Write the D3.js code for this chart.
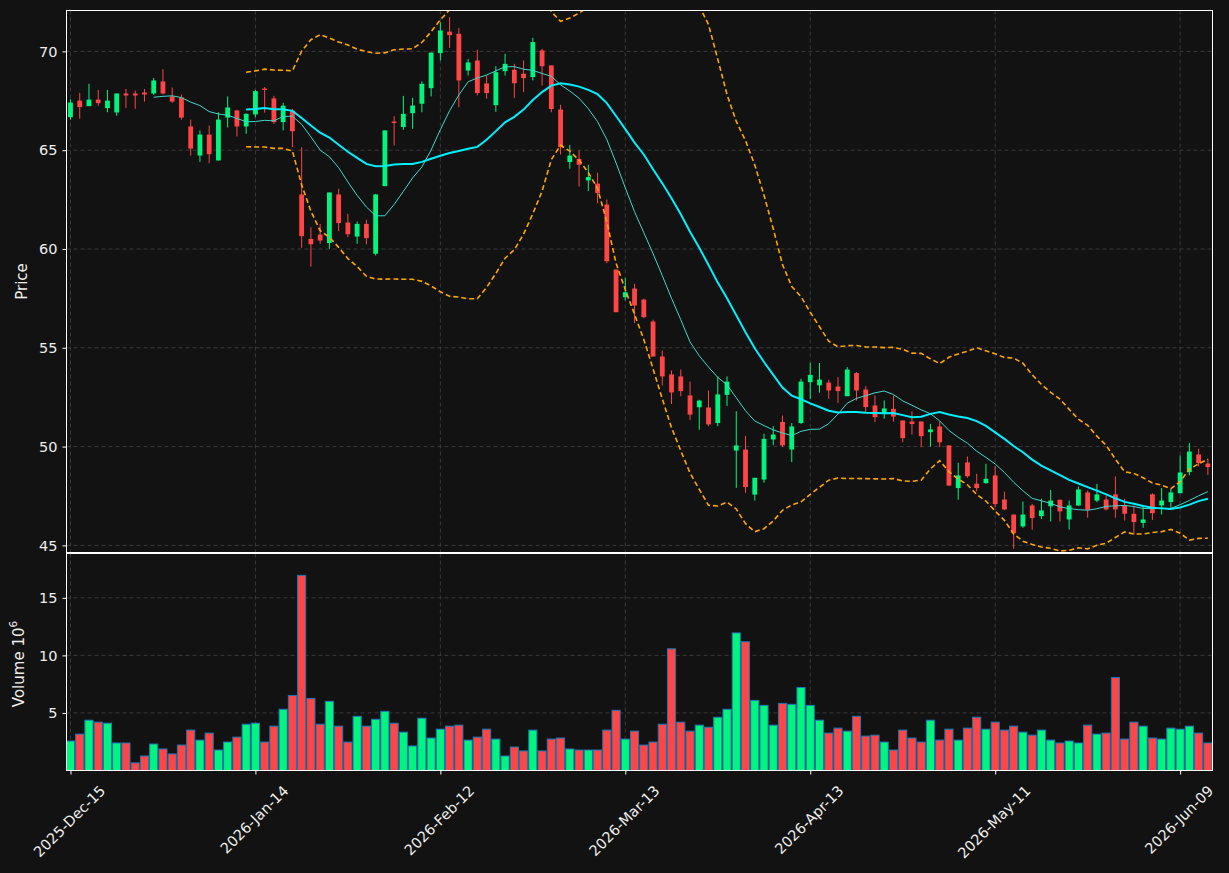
<!DOCTYPE html>
<html>
<head>
<meta charset="utf-8">
<script src="https://cdn.jsdelivr.net/npm/d3@7"></script>
<style>
  html, body { margin: 0; padding: 0; background: #121212; }
  svg { display: block; }
  text { font-family: "DejaVu Sans", sans-serif; }
</style>
</head>
<body>
<svg id="chart" width="1229" height="873"></svg>
<script>
// ---------------- DATA ----------------
const opens = [66.67,67.51,67.23,67.56,67.13,66.91,67.87,67.87,67.92,67.87,68.48,67.72,67.67,66.20,64.73,65.79,64.48,66.65,67.01,66.20,
66.81,68.12,67.62,66.42,67.01,62.76,60.51,60.73,60.30,62.76,61.34,60.63,61.27,59.76,63.18,66.45,66.17,66.87,67.35,68.14,
69.91,71.00,70.89,69.03,69.54,68.38,67.28,69.00,69.07,68.87,68.70,70.05,69.29,67.06,64.40,64.56,63.47,63.31,62.25,58.96,
57.56,58.00,57.44,56.33,54.56,53.65,53.55,52.59,51.99,51.98,51.19,52.62,49.80,49.85,47.57,48.33,50.36,51.25,49.85,51.19,
53.26,53.10,53.24,53.04,52.55,53.72,52.89,52.08,51.69,51.91,51.32,51.27,51.27,50.73,51.02,50.06,47.90,49.20,48.12,48.15,
48.54,47.32,46.56,45.96,47.02,46.48,46.98,47.31,46.31,47.02,47.68,47.27,47.32,47.58,47.02,46.60,46.14,47.58,47.02,47.19,
47.64,48.71,49.60,49.14];
const highs = [67.58,67.90,68.36,68.05,68.05,67.87,68.10,68.02,68.10,68.66,69.10,68.17,67.82,66.55,66.00,66.25,66.92,67.72,67.05,66.86,
68.05,68.20,67.75,67.40,67.09,65.15,61.10,61.27,62.86,63.05,61.78,61.39,61.48,62.79,66.00,66.72,67.75,67.65,68.48,69.94,
71.48,71.73,71.19,69.62,70.08,68.78,69.25,69.88,69.37,69.54,70.69,70.13,69.29,67.30,65.27,64.99,64.26,63.86,62.50,58.96,
58.54,58.24,57.48,56.42,54.86,53.85,53.90,53.29,52.37,52.84,53.55,53.55,51.79,50.54,48.42,50.65,51.03,51.57,51.19,53.43,
54.24,54.23,53.38,53.51,54.02,53.77,53.06,52.59,52.33,52.59,51.32,51.78,51.27,51.15,51.27,50.06,49.18,49.50,48.62,49.13,
49.00,47.72,46.56,47.22,47.10,47.36,47.81,47.31,47.27,47.98,47.78,48.11,47.52,48.49,47.36,47.02,47.02,47.64,47.90,47.86,
49.55,50.19,49.89,49.38];
const lows = [66.54,66.59,67.23,67.25,66.92,66.74,67.14,67.09,67.46,67.80,67.82,67.40,66.54,64.73,64.41,64.34,64.48,66.15,65.69,65.83,
66.67,66.90,66.33,66.00,65.15,60.06,59.11,60.26,60.01,60.90,60.60,60.26,60.23,59.67,63.18,65.24,66.03,66.08,66.92,67.72,
69.54,70.18,67.18,68.78,67.77,67.60,66.94,68.78,67.65,67.94,68.53,68.27,66.92,64.78,64.06,63.16,62.93,62.32,59.28,56.80,
57.40,56.25,56.50,54.56,53.09,52.16,52.55,51.35,50.85,51.03,51.03,52.05,47.91,47.66,47.27,48.17,50.07,49.97,49.21,51.15,
52.42,52.73,52.42,52.21,52.55,52.33,51.74,51.24,51.41,51.27,50.22,50.61,49.97,50.00,49.97,48.00,47.31,48.42,47.73,48.12,
46.94,46.77,44.83,45.89,45.79,46.34,46.21,46.21,45.80,47.00,46.40,47.19,46.77,46.40,46.26,45.55,45.89,46.29,46.56,46.82,
47.64,48.54,49.01,48.57];
const closes = [67.41,67.18,67.56,67.38,67.51,67.87,67.77,67.77,67.82,68.53,67.87,67.46,66.65,65.08,65.79,64.80,66.55,67.16,66.20,66.84,
67.99,68.05,66.42,67.25,65.96,60.65,60.24,60.43,62.86,61.31,60.75,61.27,60.55,62.76,66.00,66.38,66.84,67.26,68.36,69.94,
71.06,70.82,68.53,69.44,67.89,67.89,68.95,69.37,68.39,68.65,70.47,69.25,67.08,65.15,64.73,64.26,63.64,62.83,59.38,56.80,
57.81,57.14,56.55,54.56,53.55,52.74,52.81,51.62,52.33,51.12,52.64,53.29,50.06,47.95,48.42,50.39,50.61,50.06,51.02,53.29,
53.63,53.39,52.84,52.81,53.90,52.84,52.00,51.49,51.93,51.52,50.43,51.14,50.53,50.87,50.22,48.03,48.54,48.50,47.90,48.37,
47.09,46.82,45.62,46.56,46.38,46.77,47.27,46.72,47.02,47.83,46.80,47.58,46.82,46.82,46.60,46.18,46.31,46.63,47.27,47.68,
48.69,49.75,49.16,48.96];
// volume in millions (axis shows 10^6)
const volumes = [2.56,3.16,4.37,4.20,4.11,2.39,2.39,0.66,1.26,2.30,1.87,1.44,2.21,3.51,2.64,3.25,1.78,2.47,2.90,4.02,
4.11,2.47,3.85,5.32,6.52,16.95,6.26,4.02,6.01,3.85,2.47,4.71,3.85,4.45,5.14,4.11,3.33,2.13,4.54,2.82,
3.59,3.85,3.94,2.64,2.90,3.59,2.73,1.26,2.04,1.70,3.51,1.70,2.73,2.82,1.87,1.78,1.78,1.78,3.51,5.23,
2.73,3.42,2.21,2.47,4.02,10.57,4.20,3.42,3.94,3.76,4.63,5.32,11.95,11.18,6.09,5.66,3.94,5.83,5.75,7.21,
5.66,4.37,3.25,3.68,3.42,4.71,2.99,3.07,2.47,1.78,3.51,2.82,2.47,4.37,2.64,3.59,2.64,3.68,4.63,3.59,
4.20,3.51,3.85,3.33,3.07,3.51,2.64,2.39,2.56,2.39,3.94,3.16,3.25,8.07,2.73,4.20,3.85,2.82,2.73,3.68,
3.59,3.85,3.25,2.39];
const tickLabels = ["2025-Dec-15","2026-Jan-14","2026-Feb-12","2026-Mar-13","2026-Apr-13","2026-May-11","2026-Jun-09"];
const tickIndex = [0,20,40,60,80,100,120];
const priceTicks = [45,50,55,60,65,70];
const volumeTicks = [5,10,15];
const mavShort = 10, mavLong = 20, bbStd = 2;

// ---------------- STYLE ----------------
const C = {
  bg: "#121212", up: "#00f57f", down: "#ff4545", edge: "#1f77b4",
  grid: "#3e3e3e", spine: "#ffffff", text: "#eeeeee",
  maShort: "#40d8cc", maLong: "#00f0ff", bb: "#ffa500"
};
const TICK_FS = 14.5, LABEL_FS = 15;
const L = 66.5, R = 1212.5, PT = 10.5, PB = 552.5, VT = 553.5, VB = 770.5;

const n = closes.length;
const idx = d3.range(n);
const svg = d3.select("#chart");
svg.append("rect").attr("width", 1229).attr("height", 873).attr("fill", C.bg);

const x = d3.scaleLinear().domain([-0.43, 123.5]).range([L, R]);
const yP = d3.scaleLinear().domain([44.64, 72.07]).range([PB, PT]);
const yV = d3.scaleLinear().domain([0, 18.85]).range([VB, VT]);
const step = x(1) - x(0);

const defs = svg.append("defs");
defs.append("clipPath").attr("id", "clipP").append("rect")
  .attr("x", L).attr("y", PT).attr("width", R - L).attr("height", PB - PT);
defs.append("clipPath").attr("id", "clipV").append("rect")
  .attr("x", L).attr("y", VT).attr("width", R - L).attr("height", VB - VT);

// ---------------- GRID ----------------
const grid = svg.append("g").attr("stroke", C.grid).attr("stroke-width", 0.9).attr("stroke-dasharray", "4,3");
tickIndex.forEach(t => {
  grid.append("line").attr("x1", x(t)).attr("x2", x(t)).attr("y1", PT).attr("y2", PB);
  grid.append("line").attr("x1", x(t)).attr("x2", x(t)).attr("y1", VT).attr("y2", VB);
});
priceTicks.forEach(p => grid.append("line").attr("x1", L).attr("x2", R).attr("y1", yP(p)).attr("y2", yP(p)));
volumeTicks.forEach(v => grid.append("line").attr("x1", L).attr("x2", R).attr("y1", yV(v)).attr("y2", yV(v)));

// ---------------- CANDLES ----------------
const isUp = i => closes[i] >= opens[i];
const gP = svg.append("g").attr("clip-path", "url(#clipP)");
const bodyW = step * 0.52;
gP.selectAll("line.wick").data(idx).join("line").attr("class", "wick")
  .attr("x1", i => x(i)).attr("x2", i => x(i))
  .attr("y1", i => yP(highs[i])).attr("y2", i => yP(lows[i]))
  .attr("stroke", i => isUp(i) ? C.up : C.down).attr("stroke-width", 1);
gP.selectAll("rect.body").data(idx).join("rect").attr("class", "body")
  .attr("x", i => x(i) - bodyW / 2).attr("width", bodyW)
  .attr("y", i => yP(Math.max(opens[i], closes[i])))
  .attr("height", i => Math.max(1, Math.abs(yP(opens[i]) - yP(closes[i]))))
  .attr("fill", i => isUp(i) ? C.up : C.down);

// ---------------- MOVING AVERAGES & BOLLINGER ----------------
function rolling(period) {
  return idx.map(i => {
    if (i < period - 1) return null;
    const w = closes.slice(i - period + 1, i + 1);
    const m = d3.mean(w);
    const sd = Math.sqrt(d3.mean(w, v => (v - m) * (v - m)));
    return { i, m, sd };
  }).filter(d => d);
}
const ma10 = rolling(mavShort), ma20 = rolling(mavLong);
const lineGen = f => d3.line().x(d => x(d.i)).y(d => yP(f(d)));
gP.append("path").datum(ma20).attr("d", lineGen(d => d.m + bbStd * d.sd))
  .attr("fill", "none").attr("stroke", C.bb).attr("stroke-width", 1.6).attr("stroke-dasharray", "5,3");
gP.append("path").datum(ma20).attr("d", lineGen(d => d.m - bbStd * d.sd))
  .attr("fill", "none").attr("stroke", C.bb).attr("stroke-width", 1.6).attr("stroke-dasharray", "5,3");
gP.append("path").datum(ma10).attr("d", lineGen(d => d.m))
  .attr("fill", "none").attr("stroke", C.maShort).attr("stroke-width", 1);
gP.append("path").datum(ma20).attr("d", lineGen(d => d.m))
  .attr("fill", "none").attr("stroke", C.maLong).attr("stroke-width", 2);

// ---------------- VOLUME ----------------
const gV = svg.append("g").attr("clip-path", "url(#clipV)");
const barW = step * 0.88;
gV.selectAll("rect.vol").data(idx).join("rect").attr("class", "vol")
  .attr("x", i => x(i) - barW / 2).attr("width", barW)
  .attr("y", i => yV(volumes[i])).attr("height", i => yV(0) - yV(volumes[i]))
  .attr("fill", i => isUp(i) ? C.up : C.down)
  .attr("stroke", C.edge).attr("stroke-width", 1);

// ---------------- AXES ----------------
const axP = svg.append("g").attr("transform", `translate(${L},0)`)
  .call(d3.axisLeft(yP).tickValues(priceTicks).tickSize(4).tickPadding(5).tickFormat(d3.format("d")));
const axV = svg.append("g").attr("transform", `translate(${L},0)`)
  .call(d3.axisLeft(yV).tickValues(volumeTicks).tickSize(4).tickPadding(5).tickFormat(d3.format("d")));
const axX = svg.append("g").attr("transform", `translate(0,${VB})`)
  .call(d3.axisBottom(x).tickValues(tickIndex).tickSize(4).tickFormat(""));
[axP, axV, axX].forEach(a => {
  a.select(".domain").remove();
  a.selectAll(".tick line").attr("stroke", C.spine).attr("stroke-width", 1);
  a.selectAll(".tick text").attr("fill", C.text).attr("font-size", TICK_FS)
    .attr("font-family", "DejaVu Sans");
});

// rotated date labels, bounding box centred under the tick (matplotlib style)
const lbl = svg.append("g");
tickIndex.forEach((t, k) => {
  const tx = lbl.append("text").text(tickLabels[k])
    .attr("fill", C.text).attr("font-size", TICK_FS)
    .attr("text-anchor", "middle").attr("dominant-baseline", "central");
  const len = tx.node().getComputedTextLength();
  const h = TICK_FS * 1.1;
  const bh = (len + h) / Math.SQRT2;
  const cx = x(t) - 1, cy = VB + 12 + bh / 2;
  tx.attr("x", cx).attr("y", cy).attr("transform", `rotate(-45,${cx},${cy})`);
});

// spines
const sp = svg.append("g").attr("fill", "none").attr("stroke", C.spine).attr("stroke-width", 1);
sp.append("rect").attr("x", L).attr("y", PT).attr("width", R - L).attr("height", PB - PT);
sp.append("rect").attr("x", L).attr("y", VT).attr("width", R - L).attr("height", VB - VT);

// axis titles
svg.append("text").text("Price").attr("fill", C.text).attr("font-size", LABEL_FS)
  .attr("text-anchor", "middle").attr("transform", `translate(27,${(PT + PB) / 2}) rotate(-90)`);
const vl = svg.append("text").attr("fill", C.text).attr("font-size", LABEL_FS)
  .attr("text-anchor", "middle").attr("transform", `translate(24,${(VT + VB) / 2 + 2}) rotate(-90)`);
vl.append("tspan").text("Volume  10");
vl.append("tspan").text("6").attr("font-size", 10.5).attr("dy", -7);
</script>
</body>
</html>
